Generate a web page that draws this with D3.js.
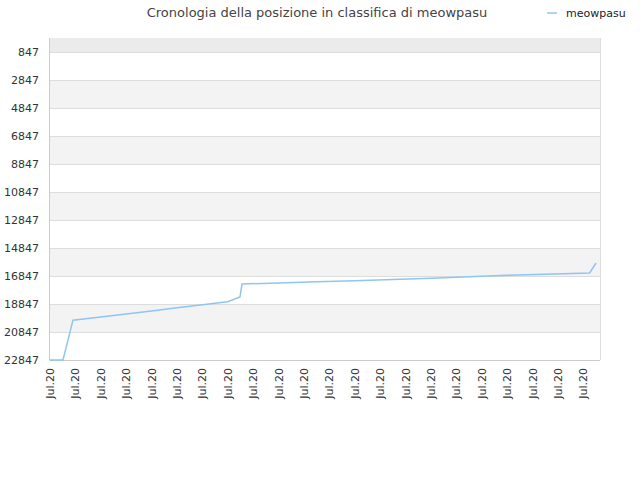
<!DOCTYPE html>
<html><head><meta charset="utf-8">
<script src="https://cdn.jsdelivr.net/npm/d3@7"></script>
<style>body{margin:0;background:#fff}text{font-family:"DejaVu Sans",sans-serif}</style>
</head><body><svg id="c" width="640" height="480"></svg>
<script>
const days  = [0,1.02,1.81,4,6,8,10,12,14,14.96,15.12,18,21,24,27,30,33,36,39,42.5,43];
const ranks = [22847,22847,20000,19780,19560,19340,19120,18900,18680,18350,17420,17340,17260,17180,17100,17000,16900,16800,16720,16630,15918];
const yTicks = [847,2847,4847,6847,8847,10847,12847,14847,16847,18847,20847,22847];
const xTicks = d3.range(0,43,2);
const xTickLabel = "Jul.20";
const title = "Cronologia della posizione in classifica di meowpasu";
const seriesName = "meowpasu";

const svg = d3.select("#c");
const L=50,R=600,T=38,B=360;
const x = d3.scaleLinear().domain([0,43]).range([L,596]);
const y = d3.scaleLinear().domain([-153,22847]).range([T,B]);

svg.append("rect").attr("x",L).attr("y",T).attr("width",R-L).attr("height",y(847)-T).attr("fill","#ebebeb");
for(let i=0;i<yTicks.length-1;i++){
  svg.append("rect").attr("x",L).attr("y",y(yTicks[i])).attr("width",R-L)
    .attr("height",y(yTicks[i+1])-y(yTicks[i])).attr("fill",i%2?"#f3f3f3":"#ffffff");
}
svg.selectAll("line.g").data(yTicks).enter().append("line")
  .attr("x1",L).attr("x2",R).attr("y1",d=>y(d)+0.5).attr("y2",d=>y(d)+0.5).attr("stroke","#dddddd");
svg.append("line").attr("x1",R+0.5).attr("x2",R+0.5).attr("y1",T).attr("y2",B).attr("stroke","#dddddd");
svg.append("line").attr("x1",L-0.5).attr("x2",L-0.5).attr("y1",T).attr("y2",B+0.5).attr("stroke","#cccccc");
svg.append("line").attr("x1",L).attr("x2",R).attr("y1",B+0.5).attr("y2",B+0.5).attr("stroke","#cccccc");

svg.selectAll("text.y").data(yTicks).enter().append("text")
  .attr("x",L-11).attr("y",d=>y(d)+4).attr("text-anchor","end").attr("font-size",11).attr("fill","#333").text(d=>d);

svg.selectAll("text.x").data(xTicks).enter().append("text")
  .attr("transform",d=>`translate(${x(d)+4},${B+8}) rotate(-90)`).attr("text-anchor","end")
  .attr("font-size",11).attr("fill","#333").text(xTickLabel);

svg.append("path").datum(d3.range(days.length)).attr("fill","none").attr("stroke","#90c4f4").attr("stroke-width",1.5)
  .attr("d",d3.line().x(i=>x(days[i])).y(i=>y(ranks[i])));

svg.append("text").attr("x",317).attr("y",17).attr("text-anchor","middle").attr("font-size",13).attr("fill","#444").text(title);
svg.append("line").attr("x1",547).attr("x2",557).attr("y1",13).attr("y2",13).attr("stroke","#90c4f4").attr("stroke-width",1.5);
svg.append("text").attr("x",566).attr("y",17).attr("font-size",11).attr("fill","#222").text(seriesName);
</script></body></html>
